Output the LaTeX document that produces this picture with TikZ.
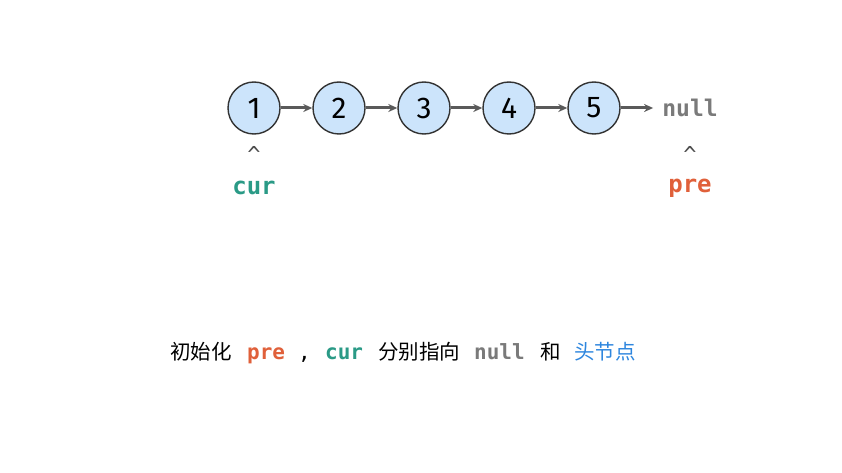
\documentclass[tikz,border=0pt]{standalone}
\usepackage{fontspec}
\setmainfont{Fira Sans}
\setmonofont{DejaVu Sans Mono}
\newfontfamily\cjk{Noto Sans CJK SC}
\usetikzlibrary{arrows.meta}
\definecolor{nodefill}{HTML}{CCE4FB}
\definecolor{linegray}{HTML}{5A5A5A}
\definecolor{nullgray}{HTML}{7A7A7A}
\definecolor{curteal}{HTML}{2A9A86}
\definecolor{preorange}{HTML}{E0603A}
\definecolor{headblue}{HTML}{2E86DE}
\tikzset{
  link/.style={draw=linegray,line width=3pt,-{Stealth[length=9pt,width=8pt]}},
  code/.style={font=\ttfamily\bfseries\fontsize{21}{21}\selectfont,anchor=base west,inner sep=0pt},
  zh/.style={font=\cjk\fontsize{20.5}{20.5}\selectfont,anchor=base west,inner sep=0pt}
}
\begin{document}
\begin{tikzpicture}[x=1pt,y=1pt]

      \useasboundingbox (0,0) rectangle (842,472);

      \begin{scope}[every node/.style={circle,draw=black!80,fill=nodefill,
          line width=1.4pt,minimum size=52pt,inner sep=0pt,font=\fontsize{30}{30}\selectfont}]
        \node (1) at (254,364) {1};
        \node (2) at (339,364) {2};
        \node (3) at (424,364) {3};
        \node (4) at (509,364) {4};
        \node (5) at (594,364) {5};
      \end{scope}

      \node[text=nullgray,font=\ttfamily\bfseries\fontsize{23}{23}\selectfont,inner sep=0pt]
        (n) at (690,364) {null};

      \path[link] (1) -- (2);
      \path[link] (2) -- (3);
      \path[link] (3) -- (4);
      \path[link] (4) -- (5);
      \path[link] (5) -- ([xshift=-9pt]n.west);

      \begin{scope}[every node/.style={font=\ttfamily\fontsize{22}{22}\selectfont,text=black!70}]
        \node (c1) at (254,318) {\^{}};
        \node (c2) at (690,318) {\^{}};
      \end{scope}
      \node[text=curteal,font=\ttfamily\bfseries\fontsize{24}{24}\selectfont] (cur) at (254,284) {cur};
      \node[text=preorange,font=\ttfamily\bfseries\fontsize{24}{24}\selectfont] (pre) at (690,284) {pre};

      % caption
      \node[zh] (t1) at (170,113) {初始化};
      \node[code,text=preorange] (t2) at (247,113) {pre};
      \node[code,font=\ttfamily\fontsize{21}{21}\selectfont] (t3) at (298,113) {,};
      \node[code,text=curteal] (t4) at (325,113) {cur};
      \node[zh] (t5) at (378,113) {分别指向};
      \node[code,text=nullgray] (t6) at (474,113) {null};
      \node[zh] (t7) at (540,113) {和};
      \node[zh,text=headblue] (t8) at (574,113) {头节点};

    \end{tikzpicture}
\end{document}
